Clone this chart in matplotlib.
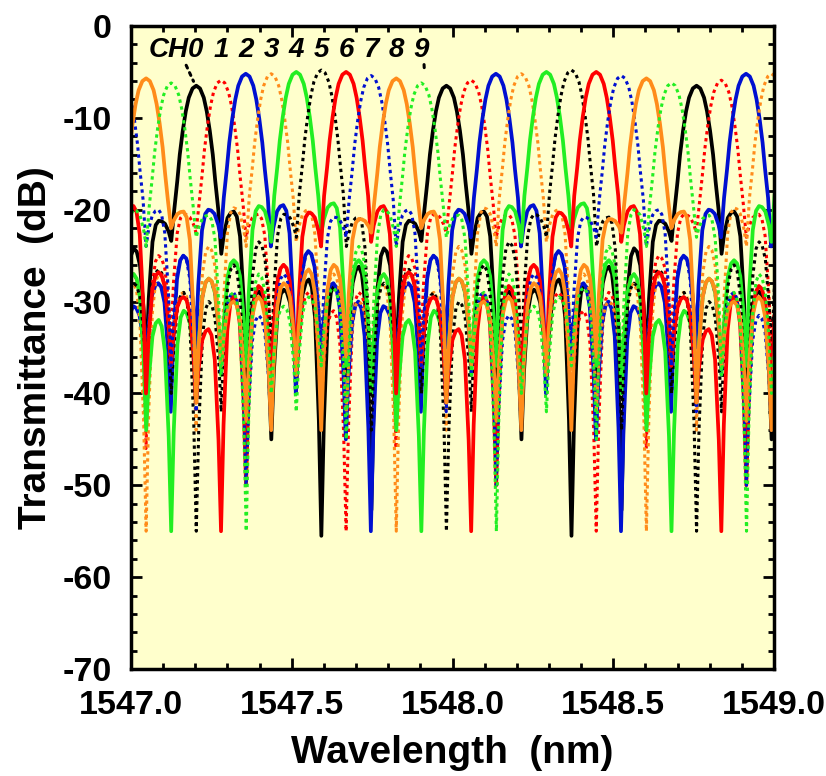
import matplotlib
matplotlib.use("Agg")
import matplotlib.pyplot as plt
from matplotlib.ticker import MultipleLocator, FormatStrFormatter

plt.rcParams['font.family'] = ['Liberation Sans', 'DejaVu Sans']
plt.rcParams['axes.unicode_minus'] = False

# Channel data
ch_labels  = ["CH0", "1", "2", "3", "4", "5", "6", "7", "8", "9"]
ch_centers = [1547.203, 1547.280, 1547.357, 1547.436, 1547.514,
              1547.592, 1547.669, 1547.747, 1547.825, 1547.903]   # nm, main-lobe peaks
ch_peaks   = [-6.5, -5.9, -5.2, -5.2, -5.0, -4.8, -5.0, -5.4, -5.7, -6.2]  # dB
ch_colors  = ["black", "#ff0000", "#0010d0", "#ff8c1a", "#22ee22",
              "black", "#ff0000", "#0010d0", "#ff8c1a", "#22ee22"]
ch_solid   = [True, False, True, False, True, False, True, False, True, False]

spacing = 0.0778   # channel spacing (nm)
fsr = 0.778        # free spectral range (nm)

# null depths at the other 9 channel slots (dB)
ch_nulls = [
    [-24.8, -38.2, -45.0, -38.4, -55.5, -38.2, -52.7, -36.6, -23.4],
    [-23.0, -36.0, -40.0, -42.0, -55.0, -38.0, -46.0, -34.0, -22.5],
    [-24.0, -40.0, -36.0, -45.0, -55.0, -37.0, -42.0, -35.0, -23.0],
    [-23.5, -38.0, -42.0, -39.0, -55.0, -36.0, -44.0, -38.0, -24.0],
    [-22.5, -37.0, -40.0, -44.0, -55.0, -40.0, -38.0, -37.0, -23.5],
    [-24.0, -44.0, -38.0, -40.0, -55.0, -42.0, -48.0, -36.0, -23.0],
    [-23.5, -40.0, -37.0, -41.0, -55.0, -50.0, -39.0, -38.0, -24.0],
    [-24.0, -37.0, -42.0, -38.0, -50.0, -44.0, -40.0, -36.0, -23.0],
    [-22.0, -41.0, -37.0, -43.0, -44.0, -38.0, -44.0, -36.0, -22.5],
    [-23.0, -38.0, -55.0, -40.0, -42.0, -37.0, -45.0, -38.0, -24.0],
]
# sidelobe maxima between those nulls (dB)
ch_lobes = [
    [-20.2, -28.9, -28.7, -27.6, -28.2, -26.2, -24.2, -21.2],
    [-20.5, -26.0, -29.0, -31.0, -29.0, -27.0, -25.0, -20.5],
    [-19.5, -24.5, -28.0, -30.0, -30.5, -28.0, -25.0, -20.0],
    [-20.0, -27.0, -30.0, -28.0, -27.0, -29.0, -24.0, -19.8],
    [-19.3, -25.5, -27.0, -32.0, -31.0, -27.5, -25.5, -19.6],
    [-20.8, -28.0, -26.5, -29.0, -30.0, -26.0, -23.5, -20.5],
    [-19.6, -26.8, -29.5, -33.0, -29.3, -28.3, -26.0, -20.3],
    [-20.0, -25.0, -27.5, -29.0, -31.5, -27.0, -24.5, -20.8],
    [-20.2, -27.5, -30.0, -29.5, -28.0, -26.5, -26.0, -21.0],
    [-20.6, -29.0, -27.0, -30.5, -29.5, -28.5, -24.0, -20.0],
]

# main lobe shape (slot units from the peak, dB below the peak)
main_u    = [0.15, 0.3, 0.42, 0.54, 0.66, 0.76, 0.88]
main_drop = [-0.3, -1.3, -2.8, -4.9, -7.5, -10.4, -13.5]
# sidelobe shoulders (slot units from a null, fraction of the rise to the lobe top)
side_u    = [0.1, 0.25, 0.38]
side_frac = [0.45, 0.85, 0.97]


def one_period(peak, nulls, lobes):
    u = [0.0]
    d = [peak]
    for uu, dd in zip(main_u, main_drop):
        u.append(uu); d.append(peak + dd)
    u.append(1.0); d.append(nulls[0])
    for j in range(8):
        nl, nr, p = nulls[j], nulls[j + 1], lobes[j]
        b = j + 1
        for uu, ff in zip(side_u, side_frac):
            u.append(b + uu); d.append(nl + ff * (p - nl))
        u.append(b + 0.5); d.append(p)
        for uu, ff in zip(side_u[::-1], side_frac[::-1]):
            u.append(b + 1 - uu); d.append(nr + ff * (p - nr))
        u.append(b + 1); d.append(nr)
    for uu, dd in zip(main_u[::-1], main_drop[::-1]):
        u.append(10 - uu); d.append(peak + dd)
    return u, d


fig = plt.figure(figsize=(8.26, 7.76), dpi=100)
ax = fig.add_axes([0.1586, 0.1379, 0.7785, 0.8286])
ax.set_facecolor("#ffffcc")

for i in range(10):
    u, d = one_period(ch_peaks[i], ch_nulls[i], ch_lobes[i])
    wl, db = [], []
    for k in range(-2, 3):
        wl += [ch_centers[i] + k * fsr + uu * spacing for uu in u]
        db += d
    if ch_solid[i]:
        ax.plot(wl, db, color=ch_colors[i], lw=2.7, solid_joinstyle='round')
    else:
        ax.plot(wl, db, color=ch_colors[i], lw=2.2, linestyle=(0, (1.1, 1.2)))

# channel labels
for i in range(10):
    if i == 0:
        ax.text(ch_centers[i] + 0.024, -2.6, ch_labels[i], ha='right', va='center',
                fontsize=20, fontweight='bold', fontstyle='italic')
    else:
        ax.text(ch_centers[i], -2.6, ch_labels[i], ha='center', va='center',
                fontsize=20, fontweight='bold', fontstyle='italic')

# dotted leaders
ax.annotate("", xy=(ch_centers[0] - 0.005, ch_peaks[0] + 0.2), xytext=(ch_centers[0] - 0.035, -4.0),
            arrowprops=dict(arrowstyle='-', linestyle=':', color='black', lw=2.2))
ax.annotate("", xy=(ch_centers[9] + 0.01, ch_peaks[9] + 1.0), xytext=(ch_centers[9] + 0.008, -3.9),
            arrowprops=dict(arrowstyle='-', linestyle=':', color='black', lw=2.2))

ax.set_xlim(1547.0, 1549.0)
ax.set_ylim(-70, 0)
ax.xaxis.set_major_locator(MultipleLocator(0.5))
ax.xaxis.set_minor_locator(MultipleLocator(0.1))
ax.xaxis.set_major_formatter(FormatStrFormatter('%.1f'))
ax.yaxis.set_major_locator(MultipleLocator(10))
ax.yaxis.set_minor_locator(MultipleLocator(2))

ax.tick_params(which='both', direction='in', top=True, right=True, width=2)
ax.tick_params(which='major', length=8, labelsize=24.5)
ax.tick_params(axis='x', which='major', pad=15)
ax.tick_params(axis='y', which='major', pad=14)
ax.tick_params(which='minor', length=4)
for lab in ax.get_xticklabels() + ax.get_yticklabels():
    lab.set_fontweight('bold')
for sp in ax.spines.values():
    sp.set_linewidth(2.5)

ax.set_xlabel("Wavelength  (nm)", fontsize=28, fontweight='bold', labelpad=10)
ax.set_ylabel("Transmittance  (dB)", fontsize=28, fontweight='bold', labelpad=6)

plt.savefig("out.png", dpi=100)
